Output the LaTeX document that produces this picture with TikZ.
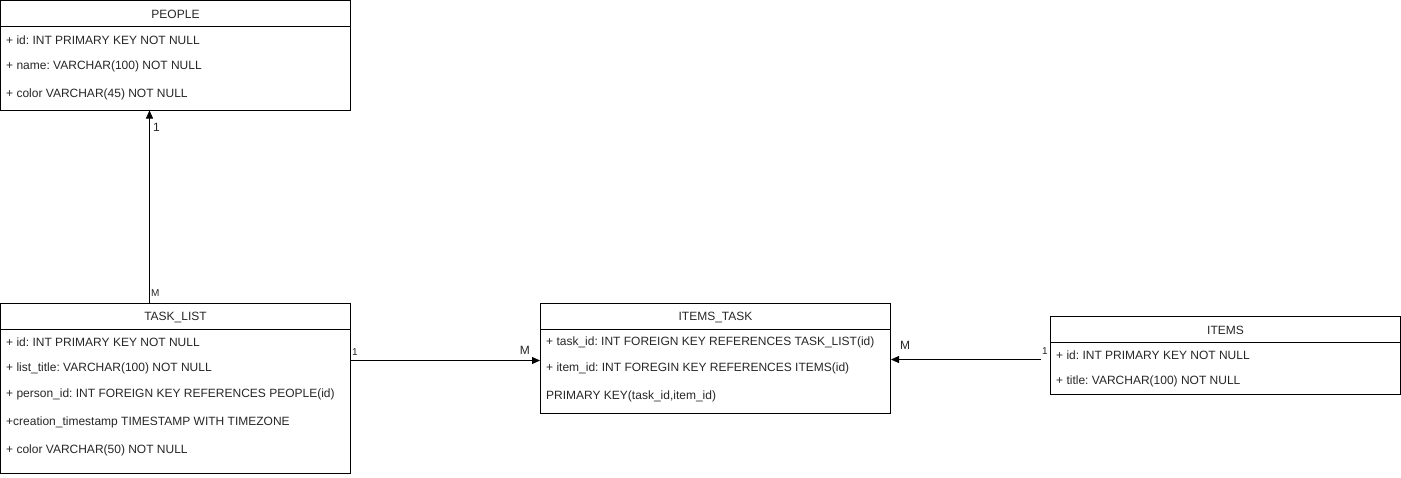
\documentclass[tikz,border=0pt]{standalone}
\usepackage{fontspec}
\setmainfont{Liberation Sans}
\usetikzlibrary{arrows.meta}
\frenchspacing
\begin{document}
\begin{tikzpicture}[x=1pt,y=-1pt,
  tbl/.style={draw=black, line width=1pt, anchor=north west, inner sep=0pt, outer sep=0pt, minimum width=350pt},
  rowtxt/.style={anchor=west, inner sep=0pt, font=\fontsize{12}{14}\selectfont, text=black!85},
  ttl/.style={anchor=center, inner sep=0pt, font=\fontsize{12}{14}\selectfont, text=black!85},
  biglbl/.style={inner sep=0pt, font=\fontsize{12}{14}\selectfont, text=black!85},
  smalllbl/.style={inner sep=0pt, font=\fontsize{10}{12}\selectfont, text=black!85},
  rel/.style={draw=black, line width=0.8pt, -{Triangle[length=8pt,width=7pt]}}
]
\useasboundingbox (0,0) rectangle (1401,477);

% PEOPLE
\node[tbl, minimum height=110pt] (people) at (0.5,0.5) {};
\draw[line width=1pt] (0.5,26.5) -- (350.5,26.5);
\node[ttl] (peoplet) at (175.5,14) {PEOPLE};
\node[rowtxt] (p1) at (6,40.5) {+ id: INT PRIMARY KEY NOT NULL};
\node[rowtxt] (p2) at (6,66.5) {+ name: VARCHAR(100) NOT NULL};
\node[rowtxt] (p3) at (6,94.5) {+ color VARCHAR(45) NOT NULL};

% TASK_LIST
\node[tbl, minimum height=170pt] (tasklist) at (0.5,303.5) {};
\draw[line width=1pt] (0.5,329.5) -- (350.5,329.5);
\node[ttl] (tasklistt) at (175.5,317) {TASK\_LIST};
\node[rowtxt] (t1) at (6,342.5) {+ id: INT PRIMARY KEY NOT NULL};
\node[rowtxt] (t2) at (6,368.5) {+ list\_title: VARCHAR(100) NOT NULL};
\node[rowtxt] (t3) at (6,394.5) {+ person\_id: INT FOREIGN KEY REFERENCES PEOPLE(id)};
\node[rowtxt] (t4) at (6,422.5) {+creation\_timestamp TIMESTAMP WITH TIMEZONE};
\node[rowtxt] (t5) at (6,450.5) {+ color VARCHAR(50) NOT NULL};

% ITEMS_TASK
\node[tbl, minimum height=110pt] (itemstask) at (540.5,303.5) {};
\draw[line width=1pt] (540.5,329.5) -- (890.5,329.5);
\node[ttl] (itemstaskt) at (715.5,317) {ITEMS\_TASK};
\node[rowtxt] (it1) at (546,342.5) {+ task\_id: INT FOREIGN KEY REFERENCES TASK\_LIST(id)};
\node[rowtxt] (it2) at (546,368.5) {+ item\_id: INT FOREGIN KEY REFERENCES ITEMS(id)};
\node[rowtxt] (it3) at (546,396.5) {PRIMARY KEY(task\_id,item\_id)};

% ITEMS
\node[tbl, minimum height=78pt] (items) at (1050.5,316.5) {};
\draw[line width=1pt] (1050.5,342.5) -- (1400.5,342.5);
\node[ttl] (itemst) at (1225.5,330) {ITEMS};
\node[rowtxt] (i1) at (1056,355.5) {+ id: INT PRIMARY KEY NOT NULL};
\node[rowtxt] (i2) at (1056,381.5) {+ title: VARCHAR(100) NOT NULL};

% connectors
\draw[rel] (tasklist.north -| 149.5,0) -- (people.south -| 149.5,0);
\node[biglbl, anchor=west] (l1a) at (153,127) {1};
\node[smalllbl, anchor=west] (l1b) at (151,293) {M};

\coordinate (tlr) at (350.5,360.5);
\coordinate (itl) at (540,360.5);
\draw[rel] (tlr) -- (itl);
\node[smalllbl, anchor=west] (l2a) at (352,352) {1};
\node[biglbl, anchor=east] (l2b) at (530,350) {M};

\coordinate (itemsout) at ([xshift=-10pt]items.west |- 0,359.5);
\coordinate (itr) at (891,359.5);
\draw[rel] (itemsout) -- (itr);
\node[smalllbl, anchor=west] (l3a) at (1042,351) {1};
\node[biglbl, anchor=west] (l3b) at (900,345) {M};
\end{tikzpicture}
\end{document}
